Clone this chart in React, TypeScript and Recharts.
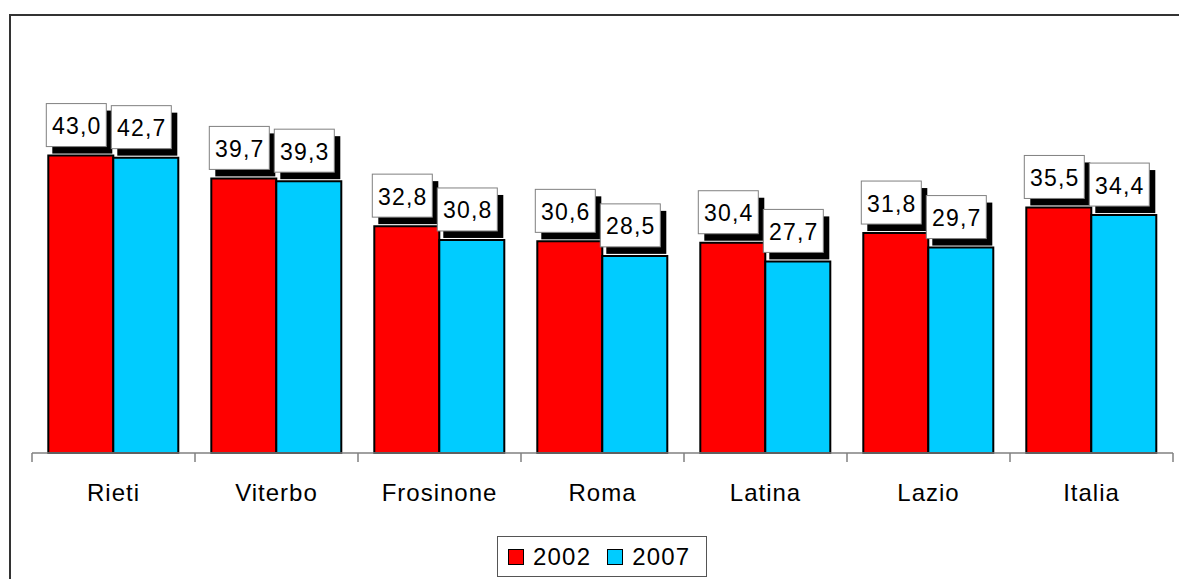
import React from 'react';
import { BarChart, Bar, XAxis, YAxis, LabelList } from 'recharts';

const categories = ['Rieti', 'Viterbo', 'Frosinone', 'Roma', 'Latina', 'Lazio', 'Italia'];
const values2002 = [43.0, 39.7, 32.8, 30.6, 30.4, 31.8, 35.5];
const values2007 = [42.7, 39.3, 30.8, 28.5, 27.7, 29.7, 34.4];
const seriesNames = ['2002', '2007'];
const seriesColors = ['#FF0000', '#00CCFF'];

const data = categories.map((c, i) => ({ name: c, s2002: values2002[i], s2007: values2007[i] }));

const FONT = '"Liberation Sans", Arial, sans-serif';
const fmt = (v: number) => v.toFixed(1).replace('.', ',');

const ValueLabel = (props: any) => {
  const { x, y, value } = props;
  const w = 60;
  const h = 43;
  const bx = x - 2;
  const by = y - 52;
  return (
    <g>
      <rect x={bx + 6} y={by + 7} width={w} height={h} fill="#000" />
      <rect x={bx} y={by} width={w} height={h} fill="#fff" stroke="#808080" strokeWidth={1} />
      <text
        x={bx + w / 2 + 0.5}
        y={by + h / 2 + 1}
        textAnchor="middle"
        dominantBaseline="central"
        fontSize={23}
        fontFamily={FONT}
        letterSpacing={1.2}
        fill="#000"
      >
        {fmt(value)}
      </text>
    </g>
  );
};

const CategoryTick = (props: any) => {
  const { x, y, payload, index } = props;
  const half = payload && payload.offset ? payload.offset : 1141 / categories.length / 2;
  const last = index === categories.length - 1;
  return (
    <g>
      <line x1={x - half} y1={y} x2={x - half} y2={y + 9} stroke="#808080" strokeWidth={1.5} />
      {last && <line x1={x + half} y1={y} x2={x + half} y2={y + 9} stroke="#808080" strokeWidth={1.5} />}
      <text
        x={x}
        y={y + 39}
        textAnchor="middle"
        dominantBaseline="central"
        fontSize={24}
        fontFamily={FONT}
        letterSpacing={1}
        fill="#000"
      >
        {payload.value}
      </text>
    </g>
  );
};

export default function App() {
  return (
    <div style={{ position: 'absolute', left: 0, top: 0, width: 1179, height: 579, background: '#fff', overflow: 'hidden' }}>
      <div
        style={{
          position: 'absolute',
          left: 9,
          top: 14,
          width: 1200,
          height: 600,
          borderLeft: '2px solid #333',
          borderTop: '2px solid #333',
        }}
      />
      <div style={{ position: 'absolute', left: 0, top: 0 }}>
        <BarChart
          width={1179}
          height={579}
          data={data}
          margin={{ top: 38, right: 6, left: 32, bottom: 0 }}
          barCategoryGap="10%"
          barGap={0}
        >
          <YAxis hide domain={[0, 60]} />
          <XAxis
            dataKey="name"
            height={126}
            tickLine={false}
            tickSize={0}
            tickMargin={0}
            axisLine={{ stroke: '#808080', strokeWidth: 1.5 }}
            tick={<CategoryTick />}
            interval={0}
          />
          <Bar dataKey="s2002" name={seriesNames[0]} fill={seriesColors[0]} stroke="#000" strokeWidth={2} isAnimationActive={false}>
            <LabelList dataKey="s2002" content={<ValueLabel />} />
          </Bar>
          <Bar dataKey="s2007" name={seriesNames[1]} fill={seriesColors[1]} stroke="#000" strokeWidth={2} isAnimationActive={false}>
            <LabelList dataKey="s2007" content={<ValueLabel />} />
          </Bar>
        </BarChart>
      </div>
      <div
        style={{
          position: 'absolute',
          left: 497,
          top: 536,
          width: 210,
          height: 41,
          border: '1px solid #555',
          display: 'flex',
          alignItems: 'center',
          paddingLeft: 10,
          boxSizing: 'border-box',
          fontFamily: FONT,
          fontSize: 24,
          letterSpacing: 1.2,
          color: '#000',
        }}
      >
        {seriesNames.map((n, i) => (
          <div key={n} style={{ display: 'flex', alignItems: 'center', marginRight: 16 }}>
            <div
              style={{
                width: 14,
                height: 14,
                background: seriesColors[i],
                border: '1.5px solid #000',
                marginRight: 9,
              }}
            />
            <span>{n}</span>
          </div>
        ))}
      </div>
    </div>
  );
}
